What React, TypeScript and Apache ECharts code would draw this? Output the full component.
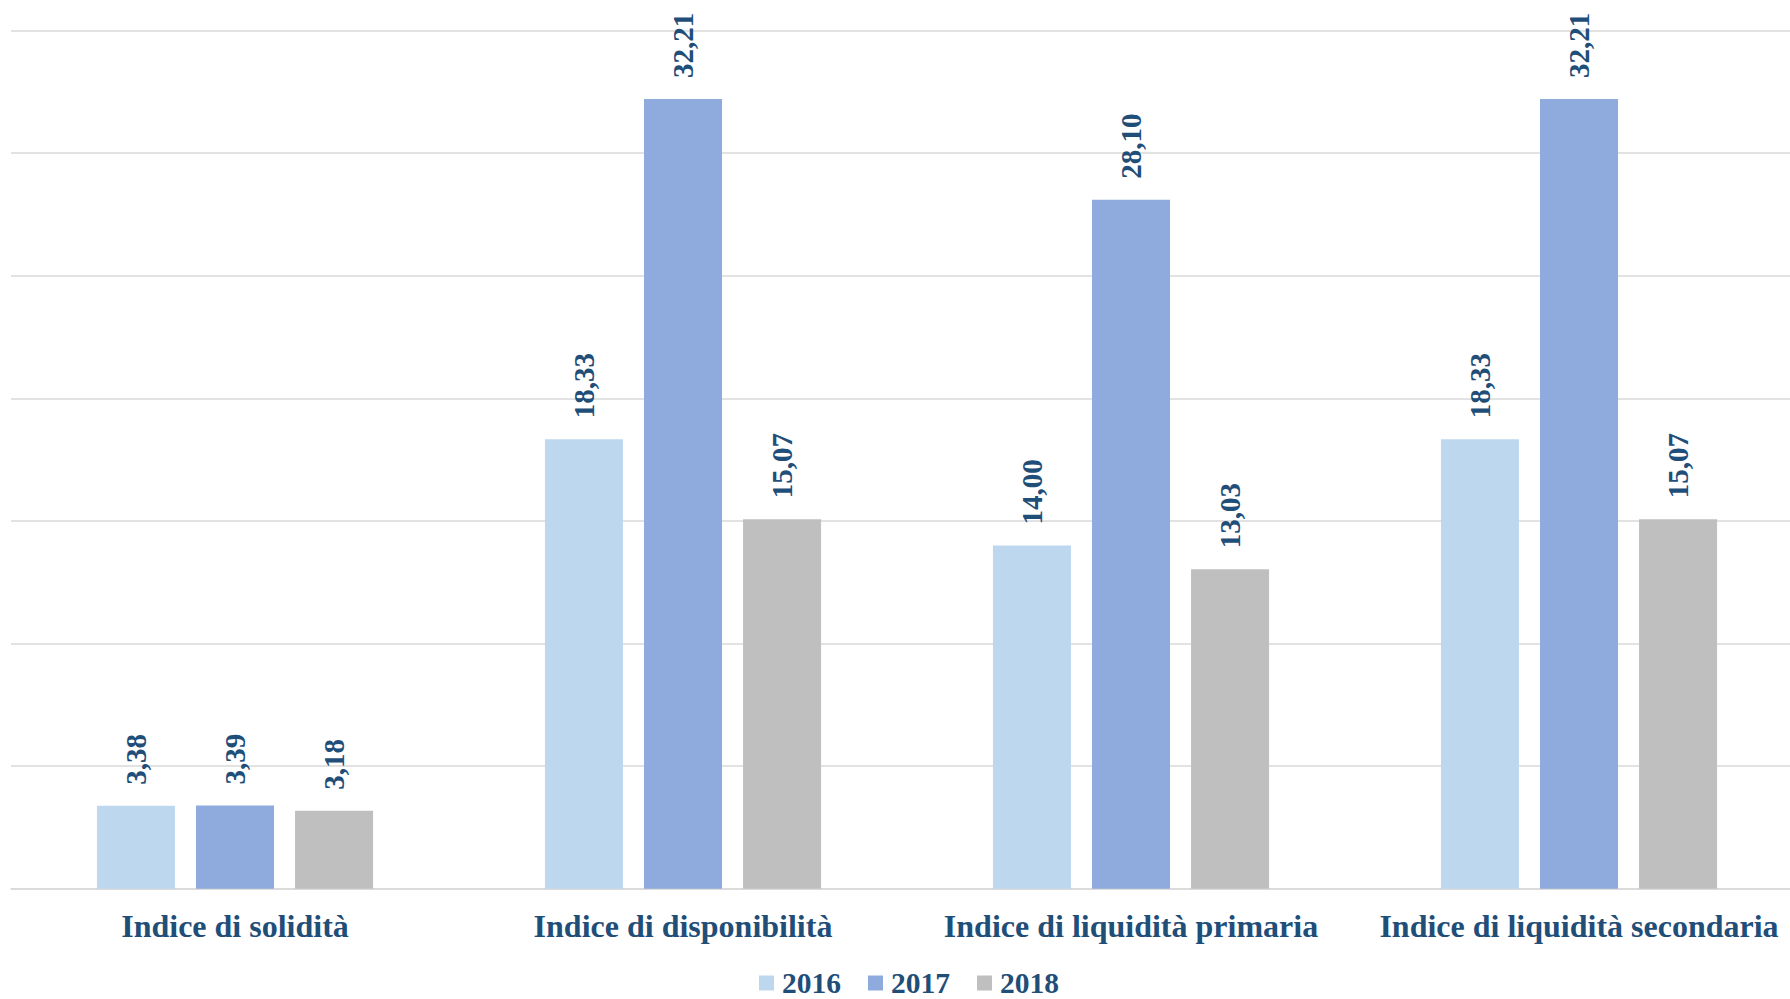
import React, { useEffect, useRef } from "react";
import * as echarts from "echarts";

const categories = [
  "Indice di solidità",
  "Indice di disponibilità",
  "Indice di liquidità primaria",
  "Indice di liquidità secondaria",
];
const seriesNames = ["2016", "2017", "2018"];
const values2016 = [3.38, 18.33, 14.0, 18.33];
const values2017 = [3.39, 32.21, 28.1, 32.21];
const values2018 = [3.18, 15.07, 13.03, 15.07];
const seriesColors = ["#BDD7EE", "#8FAADC", "#BFBFBF"];
const yMin = 0;
const yMax = 35;
const yInterval = 5;

const TEXT_COLOR = "#1F4E79";
const FONT = "'Liberation Serif', 'Times New Roman', serif";

export default function App() {
  const ref = useRef<HTMLDivElement>(null);

  useEffect(() => {
    if (!ref.current) return;
    const chart = echarts.init(ref.current, undefined, { renderer: "svg" });
    const allValues = [values2016, values2017, values2018];
    chart.setOption({
      animation: false,
      backgroundColor: "#ffffff",
      grid: { left: 11, right: 0, top: 30.6, bottom: 110.3, containLabel: false },
      legend: {
        data: seriesNames,
        left: 759,
        top: 968,
        padding: 0,
        itemWidth: 15,
        itemHeight: 15,
        itemGap: 27,
        icon: "rect",
        textStyle: {
          color: TEXT_COLOR,
          fontFamily: FONT,
          fontWeight: "bold",
          fontSize: 29.5,
          lineHeight: 24,
          padding: [0, 0, 0, 3],
        },
      },
      xAxis: {
        type: "category",
        data: categories,
        axisLine: { show: true, lineStyle: { color: "#D9D9D9", width: 1.5 } },
        axisTick: { show: false },
        axisLabel: {
          color: TEXT_COLOR,
          fontFamily: FONT,
          fontWeight: "bold",
          fontSize: 32,
          margin: 21,
          interval: 0,
        },
      },
      yAxis: {
        type: "value",
        min: yMin,
        max: yMax,
        interval: yInterval,
        axisLine: { show: false },
        axisTick: { show: false },
        axisLabel: { show: false },
        splitLine: { show: true, lineStyle: { color: "#D9D9D9", width: 1.5 } },
      },
      series: seriesNames.map((name, i) => ({
        name,
        type: "bar",
        data: allValues[i],
        barWidth: 78,
        barGap: "27%",
        itemStyle: { color: seriesColors[i] },
        label: {
          show: true,
          position: "top",
          rotate: 90,
          align: "left",
          verticalAlign: "middle",
          distance: 21,
          color: TEXT_COLOR,
          fontFamily: FONT,
          fontWeight: "bold",
          fontSize: 29,
          formatter: (p: any) => Number(p.value).toFixed(2).replace(".", ","),
        },
      })),
    });
    return () => chart.dispose();
  }, []);

  return (
    <div
      style={{
        position: "fixed",
        left: 0,
        top: 0,
        width: 1790,
        height: 999,
        overflow: "hidden",
        background: "#fff",
      }}
    >
      <div ref={ref} style={{ width: 1803, height: 999 }} />
    </div>
  );
}
